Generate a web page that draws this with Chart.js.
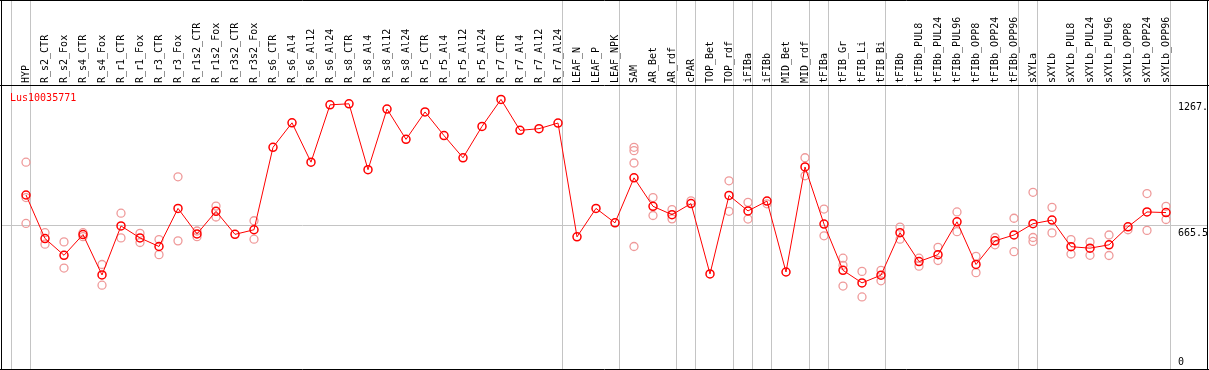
<!DOCTYPE html>
<html>
<head>
<meta charset="utf-8">
<script src="https://cdn.jsdelivr.net/npm/chart.js@4/dist/chart.umd.min.js"></script>
<style>
  html, body { margin: 0; padding: 0; background: #fff; }
  canvas { display: block; }
</style>
</head>
<body>
<canvas id="expr" width="1209" height="370"></canvas>
<script>
const geneName = 'Lus10035771';

const samples = ['HYP', 'R_s2_CTR', 'R_s2_Fox', 'R_s4_CTR', 'R_s4_Fox', 'R_r1_CTR', 'R_r1_Fox',
  'R_r3_CTR', 'R_r3_Fox', 'R_r1s2_CTR', 'R_r1s2_Fox', 'R_r3s2_CTR', 'R_r3s2_Fox',
  'R_s6_CTR', 'R_s6_Al4', 'R_s6_Al12', 'R_s6_Al24', 'R_s8_CTR', 'R_s8_Al4', 'R_s8_Al12', 'R_s8_Al24',
  'R_r5_CTR', 'R_r5_Al4', 'R_r5_Al12', 'R_r5_Al24', 'R_r7_CTR', 'R_r7_Al4', 'R_r7_Al12', 'R_r7_Al24',
  'LEAF_N', 'LEAF_P', 'LEAF_NPK', 'SAM', 'AR_Bet', 'AR_rdf', 'cPAR', 'TOP_Bet', 'TOP_rdf',
  'iFIBa', 'iFIBb', 'MID_Bet', 'MID_rdf', 'tFIBa', 'tFIB_Gr', 'tFIB_Li', 'tFIB_Bi', 'tFIBb',
  'tFIBb_PUL8', 'tFIBb_PUL24', 'tFIBb_PUL96', 'tFIBb_OPP8', 'tFIBb_OPP24', 'tFIBb_OPP96',
  'sXYLa', 'sXYLb', 'sXYLb_PUL8', 'sXYLb_PUL24', 'sXYLb_PUL96', 'sXYLb_OPP8', 'sXYLb_OPP24', 'sXYLb_OPP96'];

// mean expression per sample
const means = [810, 602, 522, 621, 428, 662, 605, 564, 746, 624, 732, 622, 644,
  1038, 1155, 967, 1241, 1246, 931, 1221, 1076, 1207, 1094, 988, 1138, 1267, 1119, 1127, 1154,
  610, 746, 677, 892, 756, 716, 769, 433, 808, 734, 781, 442, 944, 671, 450, 390, 427, 630,
  492, 525, 682, 478, 591, 619, 673, 690, 563, 556, 572, 658, 729, 726];

// individual replicates (same order as samples)
const replicates = [[967, 798, 674], [630, 575], [586, 461], [630, 611], [478, 379], [723, 605],
  [627, 583], [597, 525], [897, 591], [638, 611], [757, 705], [], [687, 599],
  [], [], [], [], [], [], [], [], [], [], [], [], [], [], [], [],
  [], [], [], [1038, 1022, 963, 564], [798, 712], [740, 696], [782], [], [878, 732],
  [775, 695], [768], [], [988, 902], [743, 615], [508, 474, 375], [445, 323], [450, 400], [657, 599],
  [508, 470], [560, 497], [729, 635], [517, 439], [607, 572], [699, 539],
  [823, 607, 588], [751, 629], [597, 528], [585, 522], [619, 521], [644], [817, 641], [756, 693]];

// group separators sit just after these sample indexes
const groupEnds = [-1, 0, 28, 31, 34, 35, 37, 38, 39, 41, 42, 45, 52, 53, 60];
const yMax = 1331;
const midTick = 665.5;
const rightLabels = [[1267, '1267.'], [665.5, '665.5'], [0, '0']];

const monoFont = 'DejaVu Sans Mono';

const repPoints = [];
replicates.forEach((list, i) => {
  list.forEach(v => repPoints.push({ x: samples[i], y: v }));
});

const framePlugin = {
  id: 'frame',
  beforeDatasetsDraw(chart) {
    const ctx = chart.ctx;
    const xs = chart.scales.x, ys = chart.scales.y;
    ctx.save();
    ctx.strokeStyle = '#c4c4c4';
    ctx.lineWidth = 1;
    groupEnds.forEach(k => {
      const x = Math.floor(xs.getPixelForValue(k + 0.24)) + 0.5;
      ctx.beginPath();
      ctx.moveTo(x, 0);
      ctx.lineTo(x, chart.height);
      ctx.stroke();
    });
    const ym = Math.round(ys.getPixelForValue(midTick)) + 0.5;
    ctx.beginPath();
    ctx.moveTo(1, ym);
    ctx.lineTo(1207, ym);
    ctx.stroke();
    ctx.restore();
  },
  afterDraw(chart) {
    const ctx = chart.ctx;
    const ys = chart.scales.y;
    ctx.save();
    ctx.strokeStyle = '#000';
    ctx.lineWidth = 1;
    ctx.beginPath();
    ctx.moveTo(1.5, 0); ctx.lineTo(1.5, 370);
    ctx.moveTo(1207.5, 0); ctx.lineTo(1207.5, 370);
    ctx.moveTo(0, 0.5); ctx.lineTo(1209, 0.5);
    ctx.moveTo(0, 85.5); ctx.lineTo(1209, 85.5);
    ctx.moveTo(0, 369.5); ctx.lineTo(1209, 369.5);
    ctx.stroke();

    ctx.font = '10px "' + monoFont + '"';
    ctx.textBaseline = 'top';
    ctx.fillStyle = '#ff0000';
    ctx.fillText(geneName, 10, 93);

    ctx.beginPath();
    ctx.rect(0, 86, 1207, 283);
    ctx.clip();
    ctx.fillStyle = '#000';
    rightLabels.forEach(([v, txt]) => {
      const y = Math.min(ys.getPixelForValue(v) + 3, 357);
      ctx.fillText(txt, 1178, y);
    });
    ctx.restore();
  }
};

new Chart(document.getElementById('expr'), {
  type: 'line',
  data: {
    labels: samples,
    datasets: [{
      data: means,
      borderColor: '#ff0000',
      borderWidth: 1,
      pointRadius: 4,
      pointStyle: 'circle',
      pointBorderColor: '#ff0000',
      pointBackgroundColor: 'rgba(0,0,0,0)',
      pointBorderWidth: 1.5,
      tension: 0
    }, {
      data: repPoints,
      showLine: false,
      pointRadius: 4,
      pointBorderColor: '#ef9a9a',
      pointBackgroundColor: 'rgba(0,0,0,0)',
      pointBorderWidth: 1.3
    }]
  },
  options: {
    responsive: false,
    animation: false,
    devicePixelRatio: 1,
    layout: { padding: { left: 16.5, right: 33.5, top: 0, bottom: 1 } },
    plugins: { legend: { display: false }, tooltip: { enabled: false } },
    scales: {
      x: {
        type: 'category',
        position: 'top',
        offset: true,
        grid: { display: false },
        border: { display: false },
        ticks: {
          autoSkip: false,
          minRotation: 90,
          maxRotation: 90,
          padding: -5,
          labelOffset: 12,
          color: '#000',
          font: { family: monoFont, size: 10 }
        },
        afterFit: s => { s.height = 86; }
      },
      y: {
        display: false,
        min: 0,
        max: yMax
      }
    }
  },
  plugins: [framePlugin]
});
</script>
</body>
</html>
